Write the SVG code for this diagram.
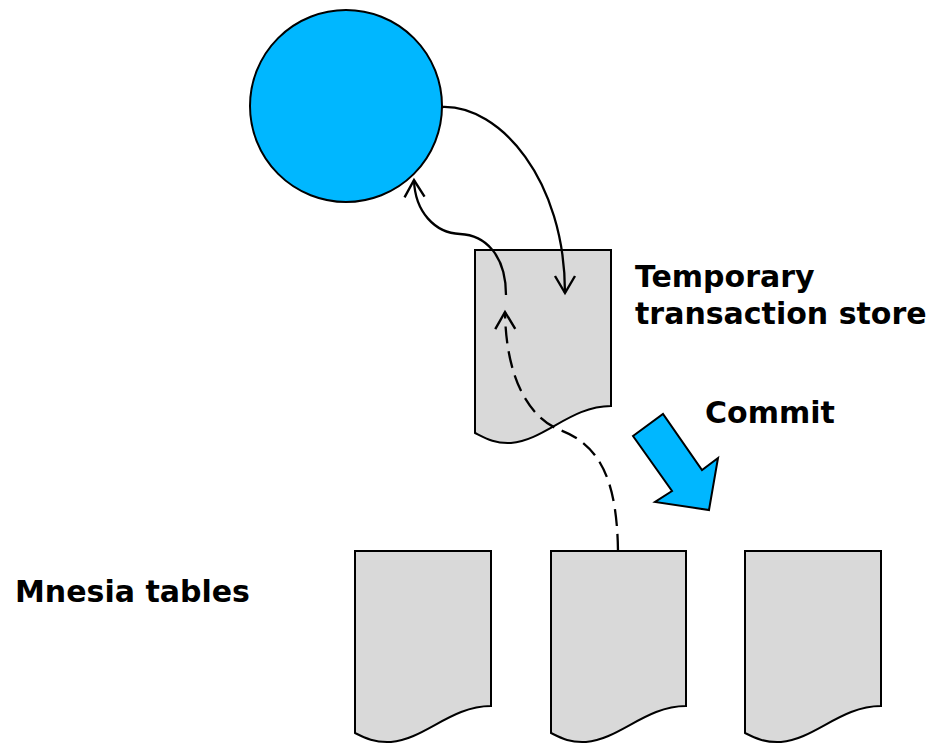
<svg xmlns="http://www.w3.org/2000/svg" width="931" height="744" viewBox="0 0 931 744">
  <style>
    .doc { fill: #d9d9d9; stroke: #000; stroke-width: 2; stroke-linejoin: miter; }
    .blue { fill: #00b7ff; stroke: #000; stroke-width: 2; stroke-linejoin: miter; }
    .label { font-family: "DejaVu Sans", Verdana, sans-serif; font-weight: bold; font-size: 30px; fill: #000; }
    .conn { fill: none; stroke: #000; stroke-width: 2.3; }
    .dashed { stroke-dasharray: 17 8; }
  </style>
  <defs>
    <marker id="open-arrow" markerUnits="userSpaceOnUse" markerWidth="24" markerHeight="24" refX="0" refY="0" viewBox="-20 -12 24 24" orient="auto" overflow="visible">
      <path d="M -17,-10 L 0,0 L -17,10" fill="none" stroke="#000" stroke-width="2.4" stroke-dasharray="none"/>
    </marker>
  </defs>

  <!-- process -->
  <g id="process">
    <circle class="blue" cx="346" cy="106" r="96"/>
  </g>

  <!-- temporary transaction store -->
  <g id="temp-store">
    <path class="doc" d="M 475,250 H 611 V 406 C 571,406 545,440 511,443 C 495,444 485,438 475,433 Z" stroke-width="1.5"/>
    <text class="label" x="635" y="287">Temporary</text>
    <text class="label" x="635" y="324">transaction store</text>
  </g>

  <!-- mnesia tables -->
  <g id="table-1">
    <path class="doc" d="M 355,551 H 491 V 706 C 451,706 425,739 391,742 C 375,743 365,738 355,733 Z"/>
  </g>
  <g id="table-2">
    <path class="doc" d="M 551,551 H 686 V 706 C 646,706 620,739 586,742 C 570,743 561,738 551,733 Z"/>
  </g>
  <g id="table-3">
    <path class="doc" d="M 745,551 H 881 V 706 C 841,706 815,739 781,742 C 765,743 755,738 745,733 Z"/>
  </g>
  <g id="tables-label">
    <text class="label" x="15" y="602">Mnesia tables</text>
  </g>

  <!-- commit -->
  <g id="commit">
    <polygon class="blue" points="633,436 663,414 702,470 718,458 709,510 655,502 672,491"/>
    <text class="label" x="705" y="423">Commit</text>
  </g>

  <!-- connectors -->
  <g id="connectors">
    <path class="conn" d="M 442,107 C 500,105 565,180 565,293" marker-end="url(#open-arrow)"/>
    <path class="conn" d="M 506,295 C 506,255 485,235 460,234 C 435,233 415,212 414,180" marker-end="url(#open-arrow)"/>
    <path class="conn dashed" d="M 618,551 C 617,480 600,445 560,430 C 530,418 506,380 505,312" marker-end="url(#open-arrow)"/>
  </g>
</svg>
